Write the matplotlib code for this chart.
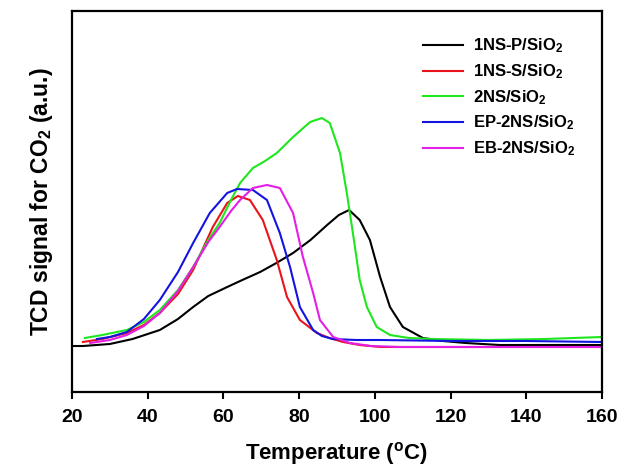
import matplotlib
matplotlib.use("Agg")
import matplotlib.pyplot as plt

# Temperatures (deg C) and TCD signal (arbitrary units)
t_p = [20, 22.9, 30, 36, 43.2, 48, 52, 56, 61, 65, 69.7, 74, 78.4, 83, 87.4, 90.5, 93.2,
       96, 98.7, 101.4, 104, 107.4, 112.7, 118, 124, 133, 145, 160]
s_p = [46, 46, 48, 53, 62, 73, 85, 96, 105, 112, 120, 129, 139, 152, 167, 177, 182,
       172, 152, 115, 85, 65, 54, 51, 49, 47, 47, 47]

t_s = [22.9, 28, 34.5, 39, 43.2, 48, 52, 57.2, 61, 63.8, 67, 70.4, 74.1, 76.8, 80.2,
       84.7, 88, 91.6, 96, 101.4, 115, 130, 160]
s_s = [50, 53, 59, 67, 79, 98, 122, 165, 189, 196, 192, 172, 132, 95, 72,
       59, 54, 50, 47, 45, 45, 45, 45]

t_2 = [23.4, 28, 34.5, 39, 43.2, 48, 52, 56, 59, 62, 64.4, 67.8, 71, 74.1, 78.4, 82.9,
       86, 88.1, 90.8, 92.6, 94.2, 96, 97.9, 100.5, 104, 109, 115.4, 130, 145, 160]
s_2 = [54, 57, 62, 70, 82, 102, 125, 152, 169, 192, 209, 224, 231, 239, 255, 270,
       274, 269, 239, 199, 159, 112, 85, 65, 57, 54, 53, 52, 53, 55]

t_ep = [26.6, 30, 34.5, 39, 43.2, 48, 52, 56.4, 61, 63.6, 67.8, 71.5, 74.9, 77.6, 80.2,
        83.7, 86, 88.9, 95, 101.4, 120, 140, 160]
s_ep = [53, 55, 60, 73, 92, 120, 149, 179, 199, 203, 202, 192, 159, 125, 85,
        62, 56, 53, 52, 52, 51, 51, 50]

t_eb = [24.8, 30, 34.5, 39, 43.2, 48, 52, 56, 59, 62, 64.4, 67.8, 71.5, 74.9, 78.4, 81,
        83.7, 85.5, 89, 93.4, 99, 106.6, 130, 160]
s_eb = [49, 52, 57, 66, 79, 101, 125, 150, 165, 181, 192, 204, 207, 204, 179, 135,
        99, 72, 55, 49, 46, 45, 45, 45]

labels = ["1NS-P/SiO$_2$", "1NS-S/SiO$_2$", "2NS/SiO$_2$", "EP-2NS/SiO$_2$", "EB-2NS/SiO$_2$"]
colors = ["#000000", "#e8141a", "#1fe61f", "#1414e0", "#e51ee5"]
x_ticks = [20, 40, 60, 80, 100, 120, 140, 160]

plt.rcParams.update({
    "font.family": ["Liberation Sans", "DejaVu Sans"],
    "font.weight": "bold",
    "mathtext.fontset": "custom",
    "mathtext.rm": "Liberation Sans:bold",
    "mathtext.bf": "Liberation Sans:bold",
    "mathtext.it": "Liberation Sans:bold",
    "mathtext.default": "bf",
})

fig = plt.figure(figsize=(6.19, 4.74), dpi=100)
ax = fig.add_axes([0.1163, 0.173, 0.8562, 0.8038])

series = [(t_p, s_p), (t_s, s_s), (t_2, s_2), (t_ep, s_ep), (t_eb, s_eb)]
for (t, s), c, lab in zip(series, colors, labels):
    ax.plot(t, s, color=c, linewidth=1.5, label=lab)

ax.set_xlim(20, 160)
ax.set_ylim(0, 381)
ax.set_xticks(x_ticks)
ax.set_yticks([])
ax.tick_params(axis="x", direction="out", length=5, width=1.5, labelsize=14, pad=7)
for lbl in ax.get_xticklabels():
    lbl.set_fontweight("bold")
for sp in ax.spines.values():
    sp.set_linewidth(1.6)

ax.set_xlabel("Temperature ($^o$C)", fontsize=16, fontweight="bold", labelpad=10)
ax.set_ylabel("TCD signal for CO$_2$ (a.u.)", fontsize=16.5, fontweight="bold", labelpad=12)

leg = ax.legend(loc="upper left", bbox_to_anchor=(0.634, 0.972), frameon=False,
                fontsize=12, handlelength=2.4, handletextpad=0.6, labelspacing=0.42)

fig.savefig("out.png", dpi=100)
